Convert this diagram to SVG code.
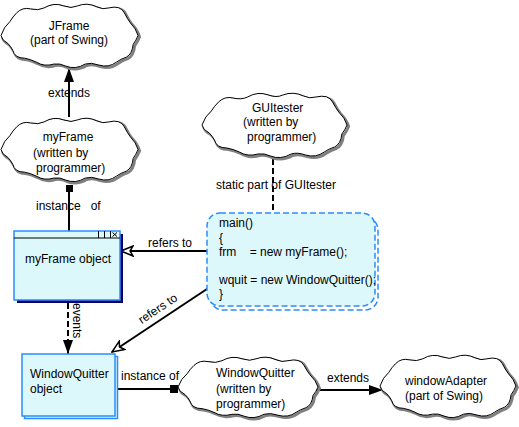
<svg xmlns="http://www.w3.org/2000/svg" xmlns:xlink="http://www.w3.org/1999/xlink" width="519" height="427" viewBox="0 0 519 427">
<style>
text{font-family:"Liberation Sans",Arial,sans-serif;font-size:12px;fill:#000}
.cl{fill:#fff;stroke:#000;stroke-width:1}
.cs{fill:none;stroke:#808080;stroke-width:3}
.ln{stroke:#000;stroke-width:2;fill:none}
.obj{fill:#ddf8fa;stroke:#2a8cff;stroke-width:1.5}
.code{fill:#ddf8fa;stroke:#2a8cff;stroke-width:1.5;stroke-dasharray:6,3}
.mid{text-anchor:middle}
</style>
<defs>
<path id="cloud" vector-effect="non-scaling-stroke" d="M0,33 Q3,24 9,19 Q12,14 16,10 Q22,4 30,6 Q38,8 44,5 Q54,-1 64,3 Q72,6 78,3 Q88,-1 98,4 Q104,7 110,5 Q122,2 126,10 Q129,16 132,20 Q138,26 140,33 Q138,38 135,42 Q134,52 128,55 Q122,57 118,60 Q110,66 100,63 Q92,60 86,62 Q76,68 66,64 Q60,61 54,62 Q44,65 36,60 Q30,57 24,56 Q14,56 12,48 Q10,44 7,41 Q1,38 0,33 Z"/>
<marker id="fa" markerUnits="userSpaceOnUse" viewBox="0 0 14 10" refX="14" refY="5" markerWidth="14" markerHeight="10" orient="auto">
<path d="M0,0 L14,5 L0,10 Z" fill="#000"/>
</marker>
<marker id="oa" markerUnits="userSpaceOnUse" viewBox="0 0 14 12" refX="13" refY="6" markerWidth="14" markerHeight="12" orient="auto">
<path d="M1,1 L13,6 L1,11 L4,6 Z" fill="#fff" stroke="#000" stroke-width="1.5"/>
</marker>
</defs>

<g id="connectors">
<line class="ln" x1="69" y1="117" x2="69" y2="68" marker-end="url(#fa)"/>
<text class="mid" x="69" y="97">extends</text>
<line class="ln" x1="69" y1="190" x2="69" y2="231"/>
<rect x="66" y="185" width="7" height="7" fill="#000"/>
<text x="36" y="210" xml:space="preserve">instance   of</text>
<line class="ln" x1="273" y1="159" x2="273" y2="212" stroke-dasharray="6,3" stroke-width="2.5"/>
<text class="mid" x="276" y="189">static part of GUItester</text>
<line class="ln" x1="218" y1="251" x2="121" y2="251" marker-end="url(#oa)"/>
<text x="148" y="247">refers to</text>
<line class="ln" x1="68" y1="303" x2="68" y2="354" stroke-dasharray="6,3" marker-end="url(#fa)"/>
<text transform="translate(73,303) rotate(90)">events</text>
<line class="ln" x1="216" y1="283" x2="112" y2="352" marker-end="url(#oa)"/>
<text class="mid" transform="translate(160,312) rotate(-33.6)">refers to</text>
<line class="ln" x1="117" y1="389" x2="172" y2="389"/>
<rect x="170" y="385" width="8" height="8" fill="#000"/>
<text x="121" y="380">instance of</text>
<line class="ln" x1="316" y1="390" x2="383" y2="390" marker-end="url(#fa)"/>
<text x="327" y="382">extends</text>
</g>

<g id="jframe" transform="translate(1,3) scale(0.979,0.985)">
<use class="cs" xlink:href="#cloud" x="1.5" y="1.5"/>
<use class="cl" xlink:href="#cloud"/>
</g>
<g id="jframe-text">
<text class="mid" x="69" y="30">JFrame</text>
<text class="mid" x="69" y="44">(part of Swing)</text>
</g>

<g id="myframe" transform="translate(1,117) scale(0.979,0.985)">
<use class="cs" xlink:href="#cloud" x="1.5" y="1.5"/>
<use class="cl" xlink:href="#cloud"/>
</g>
<g id="myframe-text">
<text class="mid" x="68" y="141">myFrame</text>
<text x="33" y="157">(written by</text>
<text x="36" y="172">programmer)</text>
</g>

<g id="guitester" transform="translate(202,92) scale(1.036,1.0)">
<use class="cs" xlink:href="#cloud" x="1.5" y="1.5"/>
<use class="cl" xlink:href="#cloud"/>
</g>
<g id="guitester-text">
<text x="252" y="112">GUItester</text>
<text x="243" y="126">(written by</text>
<text x="247" y="141">programmer)</text>
</g>

<g id="myframe-object">
<rect x="17" y="234" width="106" height="69" fill="#000066"/>
<rect class="obj" x="14" y="231" width="106" height="69"/>
<line x1="14" y1="238" x2="120" y2="238" stroke="#000" stroke-width="1"/>
<g fill="none" stroke="#000" stroke-width="1">
<line x1="98.5" y1="231" x2="98.5" y2="238"/>
<line x1="104.5" y1="231" x2="104.5" y2="238"/>
<line x1="110.5" y1="231" x2="110.5" y2="238"/>
<path d="M112.5,232.5 L117,236.5 M117,232.5 L112.5,236.5"/>
</g>
<text x="25" y="263">myFrame object</text>
</g>

<g id="main-code">
<rect x="210" y="217" width="168" height="93" rx="13" fill="none" stroke="#2a8cff" stroke-width="1.5" stroke-dasharray="6,3"/>
<rect class="code" x="207" y="213" width="168" height="93" rx="13"/>
<text x="219" y="227">main()</text>
<text x="219" y="242">{</text>
<text x="219" y="256" xml:space="preserve">frm    = new myFrame();</text>
<text x="219" y="284">wquit = new WindowQuitter();</text>
<text x="219" y="298">}</text>
</g>

<g id="wq-object">
<rect class="obj" x="24.5" y="356.5" width="93" height="62"/>
<rect class="obj" x="22" y="354" width="93" height="62"/>
<text x="30" y="378">WindowQuitter</text>
<text x="30" y="393">object</text>
</g>

<g id="wq-cloud" transform="translate(178,356) scale(1,0.94)">
<use class="cs" xlink:href="#cloud" x="1.5" y="1.5"/>
<use class="cl" xlink:href="#cloud"/>
</g>
<g id="wq-cloud-text">
<text x="216" y="377">WindowQuitter</text>
<text x="216" y="393">(written by</text>
<text x="216" y="408">programmer)</text>
</g>

<g id="windowadapter" transform="translate(380,354) scale(0.971,0.97)">
<use class="cs" xlink:href="#cloud" x="1.5" y="1.5"/>
<use class="cl" xlink:href="#cloud"/>
</g>
<g id="windowadapter-text">
<text x="405" y="385">windowAdapter</text>
<text x="405" y="400">(part of Swing)</text>
</g>
</svg>
